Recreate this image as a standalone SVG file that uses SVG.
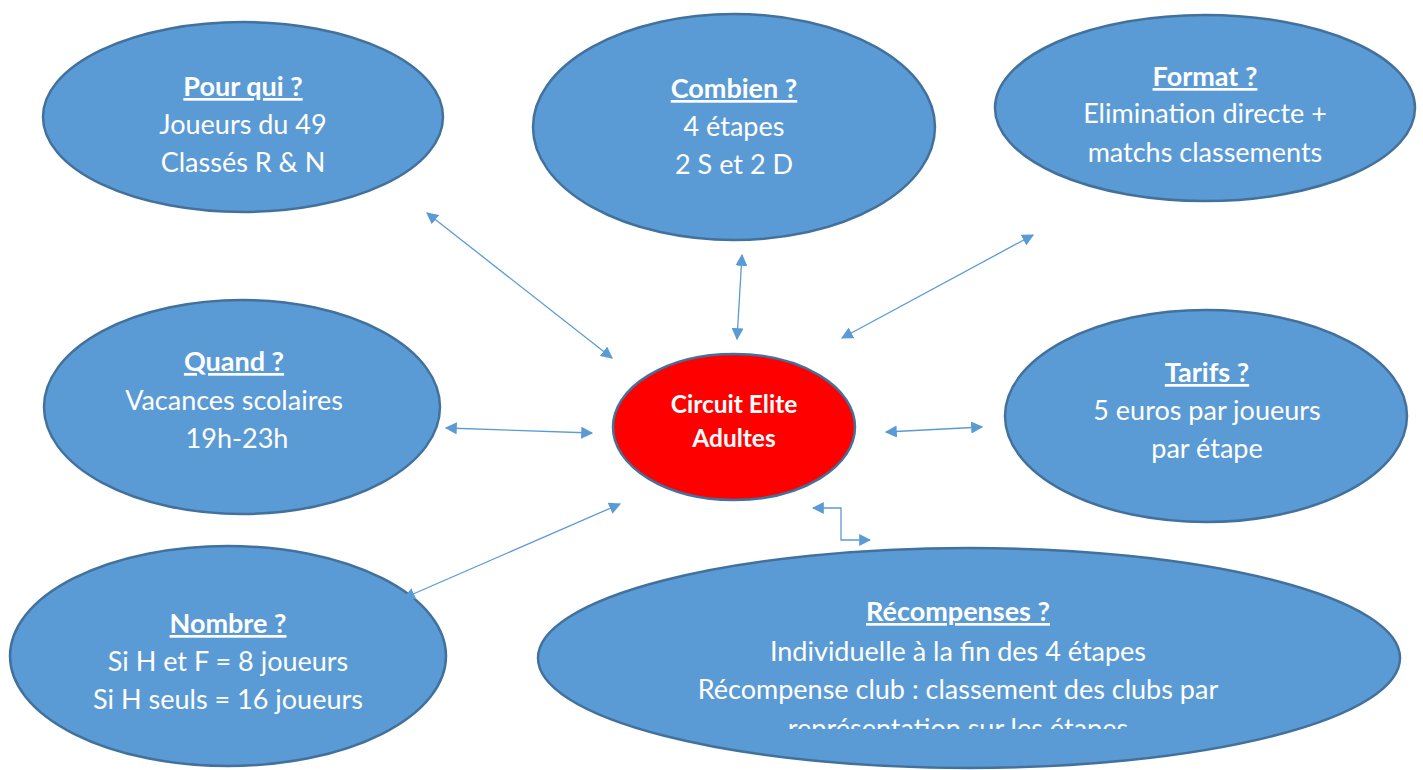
<svg xmlns="http://www.w3.org/2000/svg" width="1423" height="770" viewBox="0 0 1423 770">
<style>
.n{fill:#5B9BD5;stroke:#41719C;stroke-width:2.5}
.c{fill:#FF0000;stroke:#41719C;stroke-width:2.5}
text{font-family:Lato,"Open Sans","Liberation Sans",sans-serif;fill:#fff;text-anchor:middle;font-size:27px}
.t{font-weight:bold;text-decoration:underline}
.ct{font-weight:bold;font-size:24.5px}
.e{fill:none;stroke:#5B9BD5;stroke-width:1.3}
</style>
<defs>
<marker id="a" viewBox="0 0 10 10" refX="9" refY="5" markerWidth="12" markerHeight="12" markerUnits="userSpaceOnUse" orient="auto-start-reverse">
<path d="M0,0 L10,5 L0,10 z" fill="#5B9BD5"/>
</marker>
<clipPath id="rc"><rect x="538" y="540" width="870" height="189"/></clipPath>
</defs>
<rect width="1423" height="770" fill="#fff"/>
<g id="pourqui">
<ellipse class="n" cx="243" cy="117" rx="200" ry="95"/>
<text class="t" x="243" y="96">Pour qui ?</text>
<text x="243" y="134">Joueurs du 49</text>
<text x="243" y="172">Classés R &amp; N</text>
</g>
<g id="combien">
<ellipse class="n" cx="734" cy="127" rx="201" ry="113"/>
<text class="t" x="734" y="98">Combien ?</text>
<text x="734" y="136">4 étapes</text>
<text x="734" y="174">2 S et 2 D</text>
</g>
<g id="format">
<ellipse class="n" cx="1205" cy="108" rx="210" ry="93"/>
<text class="t" x="1205" y="86">Format ?</text>
<text x="1205" y="123">Elimination directe +</text>
<text x="1205" y="162">matchs classements</text>
</g>
<g id="quand">
<ellipse class="n" cx="242" cy="407" rx="198" ry="107"/>
<text class="t" x="234" y="371">Quand ?</text>
<text x="234" y="410">Vacances scolaires</text>
<text x="237" y="448">19h-23h</text>
</g>
<g id="centre">
<ellipse class="c" cx="734" cy="427" rx="121" ry="73"/>
<text class="ct" x="734" y="413">Circuit Elite</text>
<text class="ct" x="734" y="447">Adultes</text>
</g>
<g id="tarifs">
<ellipse class="n" cx="1206" cy="416" rx="201" ry="106"/>
<text class="t" x="1207" y="382">Tarifs ?</text>
<text x="1207" y="420">5 euros par joueurs</text>
<text x="1207" y="458">par étape</text>
</g>
<g id="nombre">
<ellipse class="n" cx="228" cy="656" rx="218" ry="110"/>
<text class="t" x="228" y="633">Nombre ?</text>
<text x="228" y="671">Si H et F = 8 joueurs</text>
<text x="228" y="709">Si H seuls = 16 joueurs</text>
</g>
<g id="recompenses">
<ellipse class="n" cx="969" cy="658" rx="431" ry="110"/>
<text class="t" x="958" y="621">Récompenses ?</text>
<text x="958" y="661">Individuelle à la fin des 4 étapes</text>
<text x="958" y="699">Récompense club : classement des clubs par</text>
<text x="958" y="738" clip-path="url(#rc)">représentation sur les étapes</text>
</g>
<g id="connectors">
<line class="e" x1="427" y1="213" x2="612" y2="358" marker-start="url(#a)" marker-end="url(#a)"/>
<line class="e" x1="742" y1="255" x2="737" y2="339" marker-start="url(#a)" marker-end="url(#a)"/>
<line class="e" x1="1033" y1="235" x2="842" y2="338" marker-start="url(#a)" marker-end="url(#a)"/>
<line class="e" x1="446" y1="428" x2="592" y2="433" marker-start="url(#a)" marker-end="url(#a)"/>
<line class="e" x1="886" y1="432" x2="982" y2="427" marker-start="url(#a)" marker-end="url(#a)"/>
<line class="e" x1="404" y1="598" x2="620" y2="504" marker-start="url(#a)" marker-end="url(#a)"/>
<polyline class="e" points="813,508 841,508 841,540 870,540" marker-start="url(#a)" marker-end="url(#a)"/>
</g>
</svg>
